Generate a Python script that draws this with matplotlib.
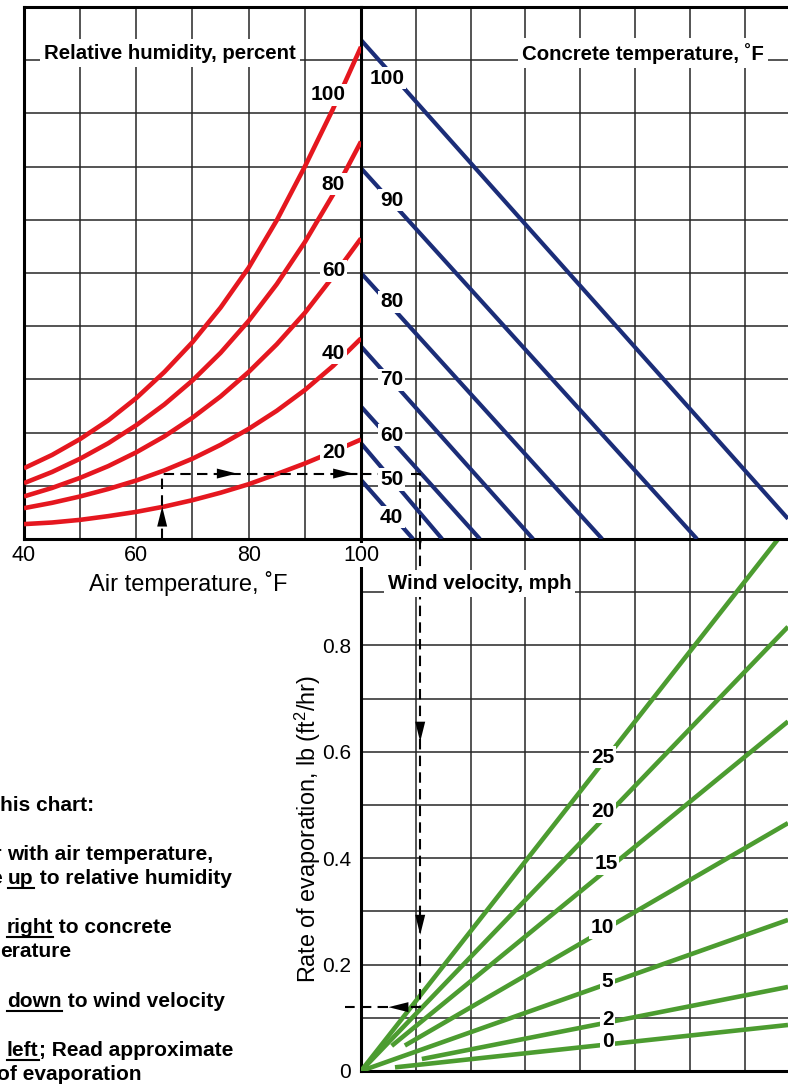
import matplotlib
matplotlib.use("Agg")
import matplotlib.pyplot as plt
from matplotlib.lines import Line2D

plt.rcParams['font.family'] = ['Liberation Sans', 'DejaVu Sans']
plt.rcParams['mathtext.fontset'] = 'custom'
plt.rcParams['mathtext.rm'] = 'Liberation Sans'
plt.rcParams['mathtext.it'] = 'Liberation Sans:italic'
plt.rcParams['mathtext.bf'] = 'Liberation Sans:bold'

W, H = 788, 1084

# ---- upper left: relative humidity curves (vapour pressure in grid units) ----
air_temp = [40, 45, 50, 55, 60, 65, 70, 75, 80, 85, 90, 95, 100]
rh_levels = [100, 80, 60, 40, 20]
rh_100 = [1.33, 1.58, 1.88, 2.23, 2.65, 3.14, 3.70, 4.35, 5.10, 5.99, 7.00, 8.08, 9.25]
rh_80 = [1.05, 1.26, 1.51, 1.80, 2.14, 2.53, 2.98, 3.50, 4.10, 4.79, 5.58, 6.47, 7.47]
rh_60 = [0.80, 0.96, 1.15, 1.37, 1.63, 1.93, 2.28, 2.68, 3.14, 3.66, 4.25, 4.93, 5.65]
rh_40 = [0.58, 0.68, 0.80, 0.94, 1.10, 1.29, 1.51, 1.77, 2.07, 2.41, 2.80, 3.25, 3.77]
rh_20 = [0.28, 0.31, 0.36, 0.43, 0.51, 0.61, 0.73, 0.87, 1.03, 1.22, 1.42, 1.64, 1.87]
rh_curves = [rh_100, rh_80, rh_60, rh_40, rh_20]
rh_label_temp = [94.2, 95.1, 95.1, 95.1, 95.1]
rh_label_vp = [8.35, 6.67, 5.04, 3.49, 1.62]

# ---- upper right: concrete temperature lines ----
conc_temps = [100, 90, 80, 70, 60, 50, 40]
conc_start_vp = [9.38, 6.97, 5.00, 3.62, 2.49, 1.80, 1.11]
conc_end_x = [7.79, 6.13, 4.40, 3.14, 2.17, 1.48, 0.95]
conc_end_vp = [0.38, 0, 0, 0, 0, 0, 0]
conc_label_x = [0.47, 0.56, 0.56, 0.56, 0.56, 0.56, 0.56]
conc_label_vp = [8.66, 6.37, 4.46, 2.99, 1.95, 1.12, 0.41]

# ---- lower: wind velocity lines ----
wind_speeds = [25, 20, 15, 10, 5, 2, 0]
wind_start_x = [0, 0, 0.56, 0.80, 0, 1.11, 0.62]
wind_end_x = [7.61, 7.79, 7.79, 7.79, 7.79, 7.79, 7.79]
wind_end_rate = [1.0, 0.835, 0.657, 0.466, 0.284, 0.158, 0.0865]
wind_label_x = [4.41, 4.41, 4.47, 4.41, 4.50, 4.50, 4.50]
wind_label_rate = [0.59, 0.487, 0.39, 0.269, 0.168, 0.096, 0.055]

rate_ticks = [0, 0.2, 0.4, 0.6, 0.8]
rate_ticklabels = ['0', '0.2', '0.4', '0.6', '0.8']
temp_ticks = [40, 60, 80, 100]

# worked example
ex_air_temp = 64.6
ex_vp = 1.23
ex_x = 1.08
ex_rate = 0.12

RED = '#e5171f'
BLUE = '#1b2d78'
GREEN = '#4c9c30'
GRID = '#262626'

fig = plt.figure(figsize=(W / 100, H / 100), dpi=100)
ax_rh = fig.add_axes([24 / W, 1 - 539 / H, 337 / W, 532 / H])
ax_ct = fig.add_axes([361 / W, 1 - 539 / H, (W - 361) / W, 532 / H])
ax_ev = fig.add_axes([361 / W, 1 - 1071 / H, (W - 361) / W, 532 / H])
ax_rh.set_zorder(3)
ax_ct.set_zorder(2)

ax_rh.set_xlim(40, 100)
ax_rh.set_ylim(0, 10)
ax_ct.set_xlim(0, 7.79)
ax_ct.set_ylim(0, 10)
ax_ev.set_xlim(0, 7.79)
ax_ev.set_ylim(0, 1)

# grids
for t in range(50, 100, 10):
    ax_rh.axvline(t, color=GRID, lw=1.1, zorder=1)
for v in range(1, 10):
    ax_rh.axhline(v, color=GRID, lw=1.1, zorder=1)
    ax_ct.axhline(v, color=GRID, lw=1.1, zorder=1)
    ax_ev.axhline(v / 10, color=GRID, lw=1.1, zorder=1)
for k in range(1, 8):
    ax_ct.axvline(k, color=GRID, lw=1.1, zorder=1)
    ax_ev.axvline(k, color=GRID, lw=1.1, zorder=1)

# spines
for ax in (ax_rh, ax_ct, ax_ev):
    for s in ax.spines.values():
        s.set_linewidth(2.2)
        s.set_color('black')
ax_ct.spines['left'].set_visible(False)
ax_ct.spines['right'].set_visible(False)
ax_ev.spines['top'].set_visible(False)
ax_ev.spines['right'].set_visible(False)

ax_ct.set_xticks([])
ax_ct.set_yticks([])
ax_ev.set_xticks([])
ax_rh.set_yticks([])
ax_rh.set_xticks(temp_ticks)
ax_rh.set_xticklabels([str(t) for t in temp_ticks])
ax_rh.tick_params(axis='x', length=0, pad=4, labelsize=15.5)
for lbl in ax_rh.get_xticklabels():
    lbl.set_bbox(dict(fc='white', ec='none', pad=1))
ax_ev.set_yticks(rate_ticks)
ax_ev.set_yticklabels(rate_ticklabels)
ax_ev.tick_params(axis='y', length=0, pad=7, labelsize=15)

lab_kw = dict(fontsize=15, fontweight='bold', ha='center', va='center', zorder=6,
              bbox=dict(fc='white', ec='none', pad=1.2))

# relative humidity curves
for lev, vp, tx, ty in zip(rh_levels, rh_curves, rh_label_temp, rh_label_vp):
    ax_rh.plot(air_temp, vp, color=RED, lw=3.3, solid_capstyle='butt', zorder=3)
    ax_rh.text(tx, ty, str(lev), **lab_kw)

# concrete temperature lines
for ct, v0, x1, v1, lx, ly in zip(conc_temps, conc_start_vp, conc_end_x, conc_end_vp,
                                  conc_label_x, conc_label_vp):
    ax_ct.plot([0, x1], [v0, v1], color=BLUE, lw=3.0, solid_capstyle='butt', zorder=3)
    ax_ct.text(lx, ly, str(ct), **lab_kw)

# wind velocity lines
for ws, x0, x1, r1, lx, ly in zip(wind_speeds, wind_start_x, wind_end_x, wind_end_rate,
                                  wind_label_x, wind_label_rate):
    slope = r1 / x1
    ax_ev.plot([x0, x1], [slope * x0, r1], color=GREEN, lw=3.3,
               solid_capstyle='butt', zorder=3)
    ax_ev.text(lx, ly, str(ws), **lab_kw)

# dashed example path
dash_kw = dict(color='black', lw=1.5, dashes=(5, 3), zorder=4)
ax_rh.plot([ex_air_temp, ex_air_temp, 100], [0, ex_vp, ex_vp], **dash_kw)
ax_ct.plot([0, ex_x, ex_x], [ex_vp, ex_vp, 0], **dash_kw)
ax_ev.plot([ex_x, ex_x, -0.3], [1, ex_rate, ex_rate], clip_on=False, **dash_kw)

arr_kw = dict(arrowstyle='-|>,head_length=0.8,head_width=0.2', color='black',
              lw=0, mutation_scale=18, shrinkA=0, shrinkB=0)


def arrow(ax, tip, back):
    ax.annotate('', xy=tip, xytext=back, arrowprops=arr_kw, zorder=5)


arrow(ax_rh, (ex_air_temp, 0.61), (ex_air_temp, 0.3))
arrow(ax_rh, (77.9, ex_vp), (74, ex_vp))
arrow(ax_rh, (98.6, ex_vp), (95, ex_vp))
arrow(ax_ev, (ex_x, 0.985), (ex_x, 1.02))
arrow(ax_ev, (ex_x, 0.619), (ex_x, 0.66))
arrow(ax_ev, (ex_x, 0.256), (ex_x, 0.30))
arrow(ax_ev, (0.50, ex_rate), (0.8, ex_rate))

# panel titles
title_kw = dict(fontsize=14.7, fontweight='bold', ha='center', va='center', zorder=7,
                bbox=dict(fc='white', ec='none', pad=3))
ax_rh.text(0.433, 0.9135, 'Relative humidity, percent', transform=ax_rh.transAxes, **title_kw)
ax_ct.text(0.660, 0.9135, 'Concrete temperature, ˚F', transform=ax_ct.transAxes, **title_kw)
ax_ev.text(0.2775, 0.917, 'Wind velocity, mph', transform=ax_ev.transAxes, **title_kw)

fig.text(188 / W, 1 - 583 / H, 'Air temperature, ˚F', fontsize=17, ha='center', va='center')
fig.text(308 / W, 1 - 829 / H, r'Rate of evaporation, lb (ft$^2$/hr)', fontsize=16.8,
         rotation=90, ha='center', va='center')

# instructions, cut off at the left edge like the source
note_lines = [
    ('To use t', [('his chart:', False)]),
    ('1. Enter ', [('with air temperature,', False)]),
    ('move ', [('up', True), (' to relative humidity', False)]),
    ('2. Move ', [('right', True), (' to concrete', False)]),
    ('temp', [('erature', False)]),
    ('3. Move ', [('down', True), (' to wind velocity', False)]),
    ('4. Move ', [('left', True), ('; Read approximate', False)]),
    ('rate ', [('of evaporation', False)]),
]
note_x = [0, 7, 8, 7, 0, 7, 7, -3]
note_y = [805, 854, 878, 927, 951, 1001, 1050, 1074]

renderer = fig.canvas.get_renderer()
note_kw = dict(fontsize=15, fontweight='bold', va='baseline')
for (prefix, parts), x0, yc in zip(note_lines, note_x, note_y):
    base = H - (yc + 6)
    fig.text(x0 / W, base / H, prefix, ha='right', **note_kw)
    x = x0
    for s, ul in parts:
        t = fig.text(x / W, base / H, s, ha='left', **note_kw)
        bb = t.get_window_extent(renderer=renderer)
        if ul:
            yu = (base - 3.5) / H
            fig.add_artist(Line2D([bb.x0 / W, bb.x1 / W], [yu, yu], color='black', lw=1.5))
        x = bb.x1

fig.savefig('out.png', dpi=100)
